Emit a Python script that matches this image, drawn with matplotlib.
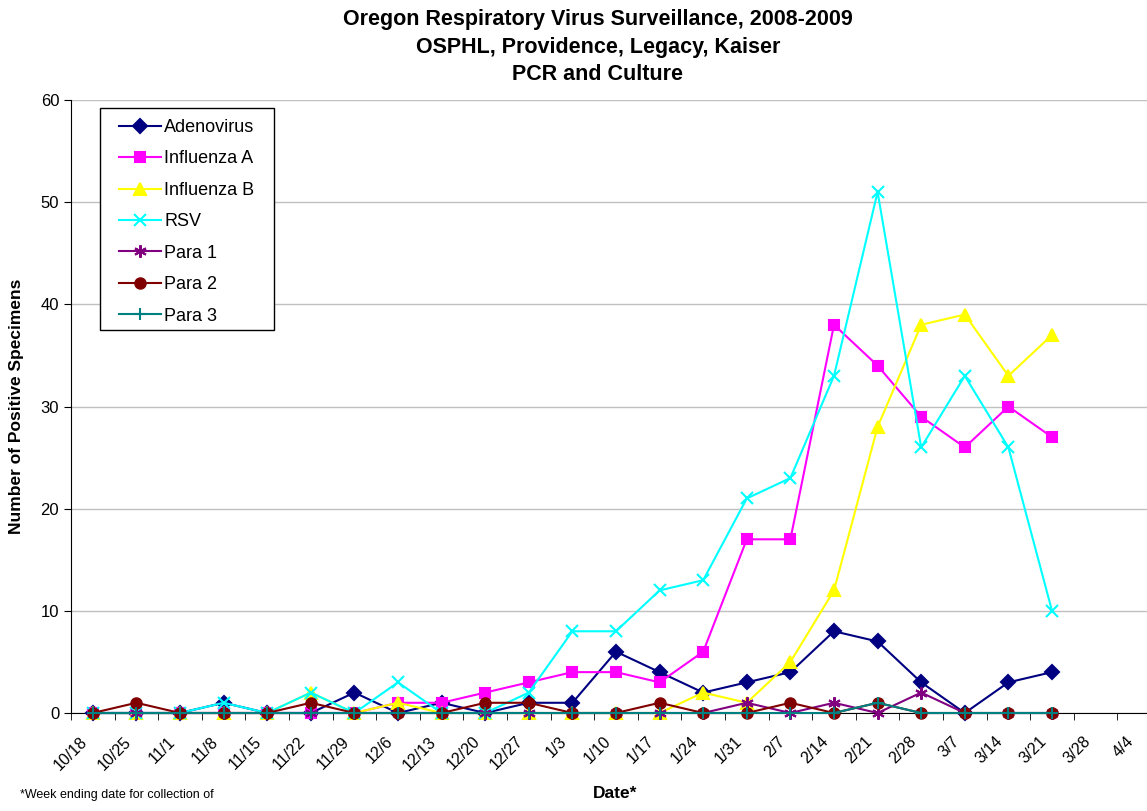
import matplotlib
matplotlib.use("Agg")
import matplotlib.pyplot as plt
from matplotlib.patches import Rectangle
from matplotlib.transforms import ScaledTranslation
import numpy as np

plt.rcParams['font.family'] = ['Liberation Sans', 'DejaVu Sans']

dates = ["10/18", "10/25", "11/1", "11/8", "11/15", "11/22", "11/29", "12/6", "12/13",
         "12/20", "12/27", "1/3", "1/10", "1/17", "1/24", "1/31", "2/7", "2/14", "2/21",
         "2/28", "3/7", "3/14", "3/21", "3/28", "4/4"]

adenovirus = [0, 0, 0, 1, 0, 0, 2, 0, 1, 0, 1, 1, 6, 4, 2, 3, 4, 8, 7, 3, 0, 3, 4]
influenza_a = [0, 0, 0, 0, 0, 0, 0, 1, 1, 2, 3, 4, 4, 3, 6, 17, 17, 38, 34, 29, 26, 30, 27]
influenza_b = [0, 0, 0, 0, 0, 2, 0, 1, 0, 0, 0, 0, 0, 0, 2, 1, 5, 12, 28, 38, 39, 33, 37]
rsv = [0, 0, 0, 1, 0, 2, 0, 3, 0, 0, 2, 8, 8, 12, 13, 21, 23, 33, 51, 26, 33, 26, 10]
para1 = [0, 0, 0, 0, 0, 0, 0, 0, 0, 0, 0, 0, 0, 0, 0, 1, 0, 1, 0, 2, 0, 0, 0]
para2 = [0, 1, 0, 0, 0, 1, 0, 0, 0, 1, 1, 0, 0, 1, 0, 0, 1, 0, 1, 0, 0, 0, 0]
para3 = [0, 0, 0, 0, 0, 0, 0, 0, 0, 0, 0, 0, 0, 0, 0, 0, 0, 0, 1, 0, 0, 0, 0]

series = [
    ("Adenovirus", adenovirus, "#000080", "D", 7),
    ("Influenza A", influenza_a, "#FF00FF", "s", 7.5),
    ("Influenza B", influenza_b, "#FFFF00", "^", 8),
    ("RSV", rsv, "#00FFFF", "x", 8),
    ("Para 1", para1, "#800080", (6, 2, 0), 9),
    ("Para 2", para2, "#800000", "o", 7.5),
    ("Para 3", para3, "#008080", "+", 8),
]

W, H = 1147, 811
fig = plt.figure(figsize=(W / 100, H / 100), dpi=100)
ax = fig.add_axes([71 / W, 1 - 713 / H, (1161 - 71) / W, (713 - 100) / H])

x = np.arange(len(dates))
for name, vals, col, mk, ms in series:
    ax.plot(x[:len(vals)], vals, color=col, marker=mk, markersize=ms, linewidth=1.5,
            markeredgecolor=col, markerfacecolor=col, markeredgewidth=1.5, label=name,
            clip_on=False, zorder=3)

ax.set_xlim(-0.5, len(dates) - 0.5)
ax.set_ylim(0, 60)
ax.set_yticks(np.arange(0, 61, 10))
ax.yaxis.grid(True, color="#c0c0c0", linewidth=1)
ax.set_axisbelow(True)
ax.set_xticks(x)
ax.set_xticklabels(dates, rotation=45, ha="right", va="top", rotation_mode="anchor", fontsize=11.5)
ax.tick_params(axis="x", which="major", length=0, pad=15)
shift = ScaledTranslation(-13 / 100, 0, fig.dpi_scale_trans)
for lab in ax.get_xticklabels():
    lab.set_transform(lab.get_transform() + shift)
ax.set_xticks(np.arange(-0.5, len(dates), 1), minor=True)
ax.tick_params(axis="x", which="minor", length=5, direction="out", color="black")
ax.tick_params(axis="y", length=5, direction="out", labelsize=12)
for s in ["top", "right"]:
    ax.spines[s].set_visible(False)
ax.spines["left"].set_color("black")
ax.spines["bottom"].set_color("black")

ax.set_ylabel("Number of Positive Specimens", fontsize=12.5, fontweight="bold", labelpad=12)

# legend frame drawn separately
fig.patches.append(Rectangle((100 / W, 1 - 330 / H), 174 / W, 222 / H, transform=fig.transFigure,
                             facecolor="white", edgecolor="black", linewidth=1, zorder=4))
leg = fig.legend(loc="upper left", bbox_to_anchor=(119 / W, 1 - 119 / H),
                 fontsize=13, frameon=False, handlelength=2.3, handletextpad=0.2,
                 labelspacing=0.80, borderpad=0, borderaxespad=0)
leg.set_zorder(5)

fig.text(598 / W, 1 - 20 / H, "Oregon Respiratory Virus Surveillance, 2008-2009",
         ha="center", va="center", fontsize=15.5, fontweight="bold")
fig.text(598 / W, 1 - 47 / H, "OSPHL, Providence, Legacy, Kaiser",
         ha="center", va="center", fontsize=15.5, fontweight="bold")
fig.text(598 / W, 1 - 75 / H, "PCR and Culture",
         ha="center", va="center", fontsize=15.5, fontweight="bold")
fig.text(615 / W, 1 - 793 / H, "Date*", ha="center", va="center",
         fontsize=12.5, fontweight="bold")
fig.text(20 / W, 1 - 795 / H, "*Week ending date for collection of",
         ha="left", va="center", fontsize=9)

fig.savefig("out.png", dpi=100)
